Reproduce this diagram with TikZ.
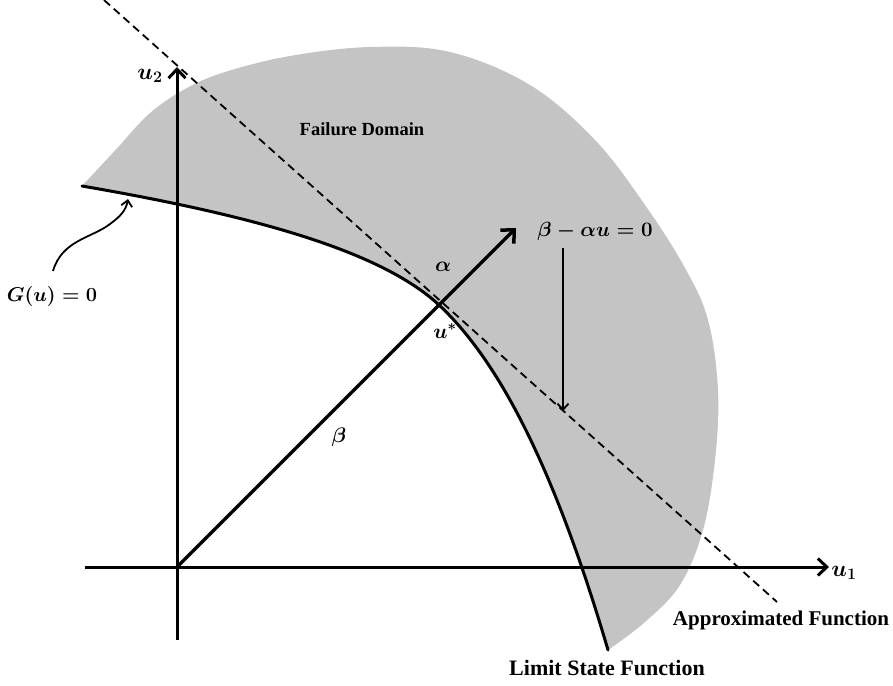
\RequirePackage{fix-cm}
\documentclass[tikz,border=0pt]{standalone}
\usepackage{fontspec}
\setmainfont{Liberation Serif}
\usetikzlibrary{arrows.meta}
\definecolor{fdgray}{RGB}{196,196,196}
\begin{document}
\begin{tikzpicture}[x=1pt,y=-1pt,
  txtlbl/.style={font=\fontsize{#1}{#1}\selectfont\bfseries, inner sep=0pt},
  mthlbl/.style={font=\fontsize{#1}{#1}\selectfont\boldmath, inner sep=0pt},
  axisline/.style={line width=3pt, -{Straight Barb[length=9pt,width=17pt,line width=3pt]}},
  thinarrow/.style={line width=1.8pt, -{Straight Barb[length=6pt,width=11pt,line width=1.8pt]}},
  lsf/.style={line width=3pt, line cap=round},
  approx/.style={line width=1.8pt, dash pattern=on 8pt off 5pt}
]
\useasboundingbox (0,0) rectangle (893,685);

% failure domain
\fill[fdgray] (82,186) .. controls (250,215) and (380,250) .. (439,305)
  .. controls (500,362) and (555,470) .. (608,650)
  -- plot[smooth, tension=0.6] coordinates {(608,650) (645,622) (680,585) (703,530) (715,460) (718,390) (708,320) (685,268) (645,205) (595,140) (530,85) (450,52) (370,47) (290,56) (225,72) (185,89) (150,113) (122,143)}
  -- cycle;

% approximated function
\coordinate (dA) at (104,0);
\coordinate (dB) at (777,602);
\draw[approx] (dA) -- (dB);

% limit state function
\coordinate (L0) at (82,186);
\coordinate (us) at (439,305);
\coordinate (L1) at (608,650);
\draw[lsf] (L0) .. controls (250,215) and (380,250) .. (us)
  .. controls (500,362) and (555,470) .. (L1);

% axes
\coordinate (O) at (177,567);
\coordinate (xs) at (85,567);
\coordinate (xe) at (829,567);
\coordinate (ys) at (177,640);
\coordinate (ye) at (177,67);
\draw[axisline] (xs) -- (xe);
\draw[axisline] (ys) -- (ye);

% beta vector
\coordinate (be) at (516,228);
\draw[line width=3.5pt, -{Straight Barb[length=10pt,width=19pt,line width=3.5pt]}] (O) -- (be);

% arrow to approximated line
\coordinate (da1) at (563,248);
\coordinate (da2) at (563,411);
\draw[thinarrow] (da1) -- (da2);

% curly arrow to G(u)=0
\coordinate (ca1) at (53,271);
\coordinate (ca2) at (128,199);
\draw[thinarrow] (ca1) .. controls (62,240) and (92,238) .. (110,224) .. controls (121,216) and (126,210) .. (ca2);

% labels
\node[txtlbl=18.5] (fd) at (362,129) {Failure Domain};
\node[txtlbl=21] (af) at (781,620) {Approximated Function};
\node[txtlbl=22] (lf) at (607,668) {Limit State Function};
\node[mthlbl=23] (u2) at (150,76) {$u_2$};
\node[mthlbl=23] (u1) at (844,573) {$u_1$};
\node[mthlbl=20.5] (eq) at (595,231) {$\beta-\alpha u=0$};
\node[mthlbl=21] (al) at (443,267) {$\alpha$};
\node[mthlbl=21] (ust) at (445,331) {$u^{*}$};
\node[mthlbl=21] (bl) at (339,437) {$\beta$};
\node[mthlbl=20] (gu) at (52,296) {$G(u)=0$};
\end{tikzpicture}
\end{document}
